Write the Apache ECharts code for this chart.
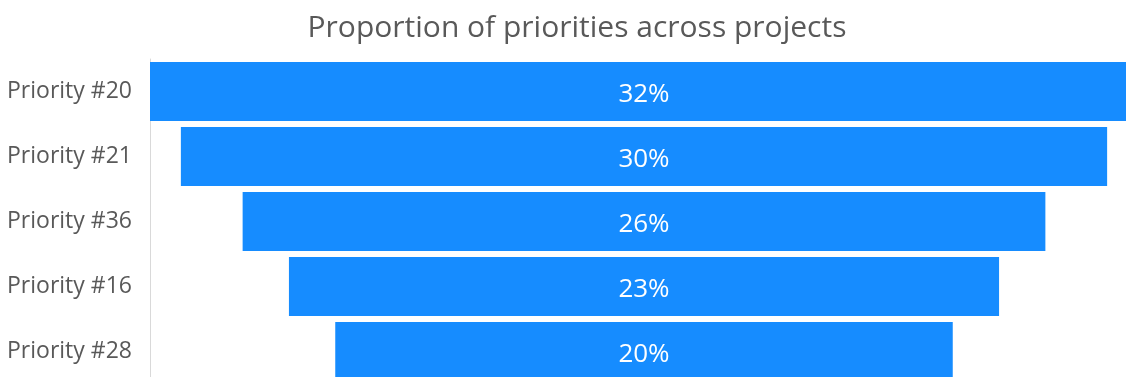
<!DOCTYPE html>
<html>
<head>
<meta charset="utf-8">
<style>
  html, body { margin: 0; padding: 0; background: #ffffff; }
  #chart { width: 1126px; height: 377px; }
</style>
<script src="https://cdn.jsdelivr.net/npm/echarts@6/dist/echarts.min.js"></script>
</head>
<body>
<div id="chart"></div>
<script>
// Priorities ordered from largest share to smallest
const categories = ['Priority #20', 'Priority #21', 'Priority #36', 'Priority #16', 'Priority #28'];
const shares = [32, 30, 26, 23, 20];

const maxShare = Math.max(...shares);
// Invisible spacer pushes each bar so that all bars are centred
const spacer = shares.map(v => (maxShare - v) / 2);

const chart = echarts.init(document.getElementById('chart'));
chart.setOption({
  animation: false,
  textStyle: { fontFamily: 'Open Sans' },
  title: {
    text: 'Proportion of priorities across projects',
    left: 572,
    textAlign: 'center',
    top: 8,
    textStyle: { fontFamily: 'Open Sans', fontSize: 30, fontWeight: 'normal', color: '#595959' }
  },
  // the plot runs slightly past the right and bottom edges of the canvas
  grid: { left: 150, top: 59, right: -12, bottom: -7, containLabel: false, outerBoundsMode: 'none' },
  xAxis: {
    type: 'value', min: 0, max: maxShare, show: false
  },
  yAxis: {
    type: 'category',
    data: categories,
    inverse: true,
    axisLine: { show: true, lineStyle: { color: '#d9d9d9', width: 1 } },
    axisTick: { show: false },
    axisLabel: {
      color: '#595959', fontSize: 23, fontFamily: 'Open Sans',
      align: 'left', margin: 143, padding: [6, 0, 0, 0]
    }
  },
  series: [
    {
      type: 'bar', stack: 'funnel', data: spacer,
      itemStyle: { color: 'transparent' },
      barCategoryGap: '9%', silent: true
    },
    {
      type: 'bar', stack: 'funnel', data: shares,
      itemStyle: { color: '#168cff' },
      barCategoryGap: '9%',
      label: {
        show: true, position: 'inside', formatter: '{c}%', offset: [0, 3],
        color: '#ffffff', fontSize: 26, fontFamily: 'Open Sans'
      }
    }
  ]
});
</script>
</body>
</html>
